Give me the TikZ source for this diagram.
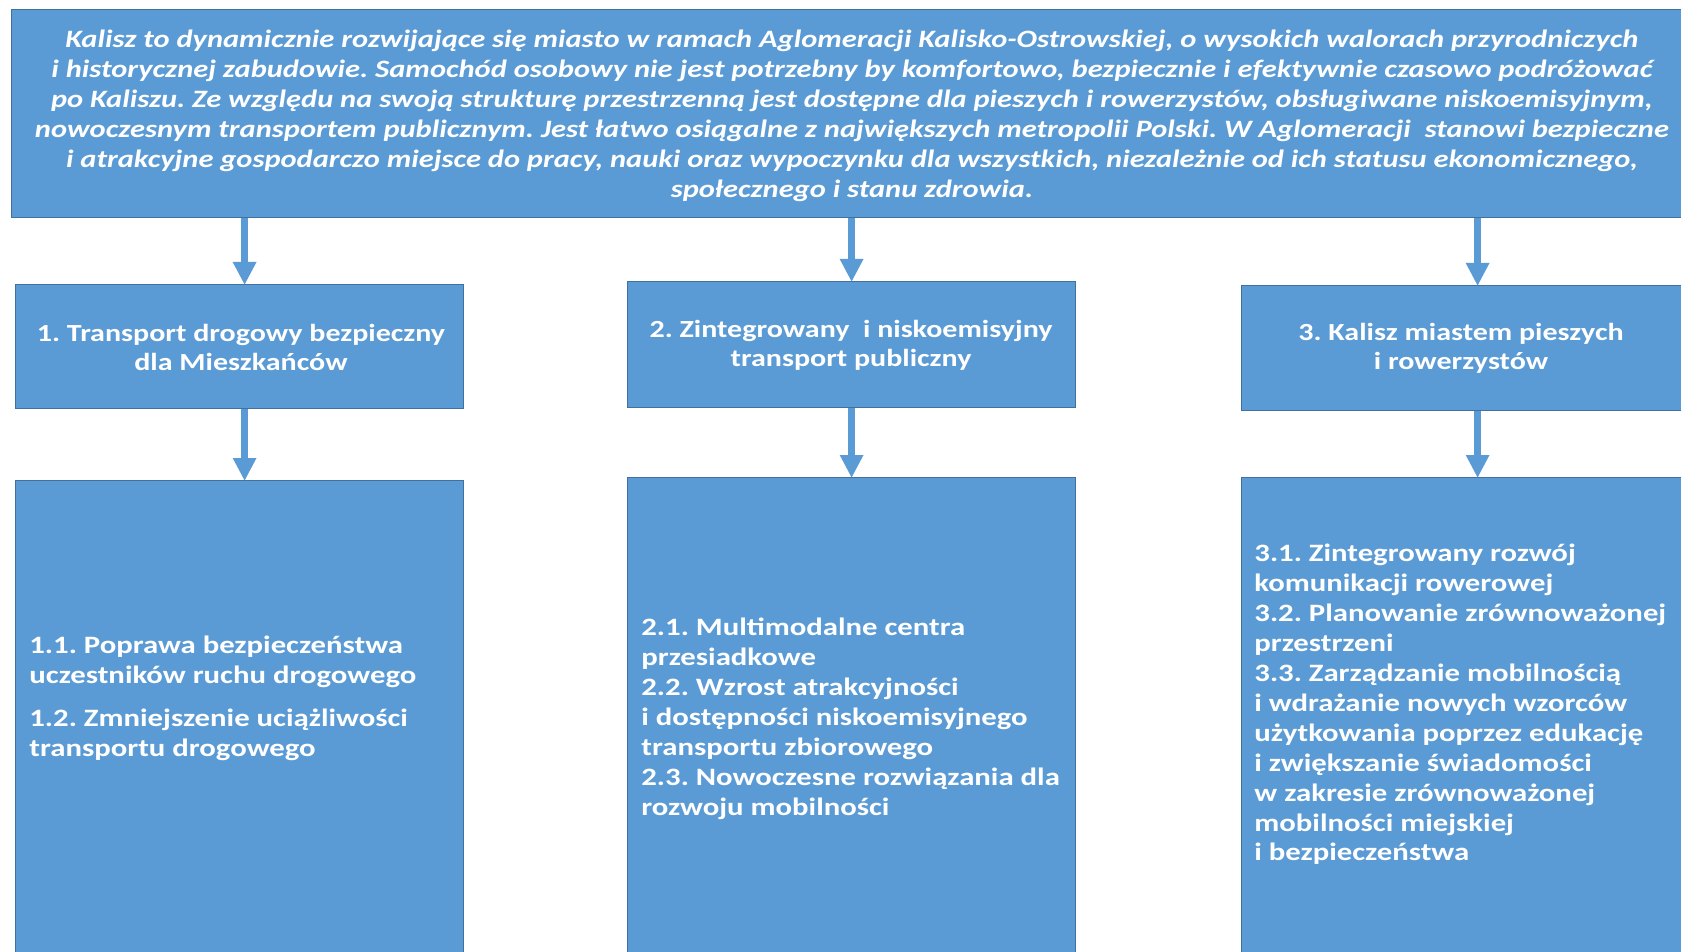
\documentclass[tikz,border=0pt]{standalone}
\usepackage{fontspec}
\setmainfont{Carlito}
\newfontfamily\topfont{Carlito}[FakeStretch=1.22]
\newfontfamily\headfont{Carlito}[FakeStretch=1.22]
\newfontfamily\itemfont{Carlito}[FakeStretch=1.23]
\usetikzlibrary{arrows.meta}
\definecolor{boxblue}{HTML}{5B9BD5}
\definecolor{boxedge}{HTML}{41719C}
\tikzset{
  box/.style={draw=boxedge, line width=0.6pt, fill=boxblue, inner sep=0pt, anchor=north west},
  toptext/.style={text=white, align=center, inner sep=0pt, font=\frenchspacing\topfont\bfseries\itshape\fontsize{12.5}{14.95}\selectfont},
  headtext/.style={text=white, align=center, inner sep=0pt, font=\frenchspacing\headfont\bfseries\fontsize{12.3}{14.5}\selectfont},
  itemtext/.style={text=white, align=left, inner sep=0pt, anchor=north west, font=\frenchspacing\itemfont\bfseries\fontsize{12.5}{14.95}\selectfont},
  arr/.style={draw=boxblue, line width=3.5pt, -{Triangle[width=11pt,length=11.5pt]}, shorten >=-0.5pt}
}
\begin{document}
\begin{tikzpicture}[x=0.5pt,y=-0.5pt]
\clip (0,0) rectangle (1681,952);
\fill[white] (0,0) rectangle (1681,952);
% top box
\node[box, minimum width=1690*0.5pt, minimum height=208*0.5pt] (top) at (11,9) {};
\node[toptext] (toptxt) at (852,116) {Kalisz to dynamicznie rozwijające się miasto w ramach Aglomeracji Kalisko-Ostrowskiej, o wysokich walorach przyrodniczych\\
i historycznej zabudowie. Samochód osobowy nie jest potrzebny by komfortowo, bezpiecznie i efektywnie czasowo podróżować\\
po Kaliszu. Ze względu na swoją strukturę przestrzenną jest dostępne dla pieszych i rowerzystów, obsługiwane niskoemisyjnym,\\
nowoczesnym transportem publicznym. Jest łatwo osiągalne z największych metropolii Polski. W Aglomeracji\ \ stanowi bezpieczne\\
i atrakcyjne gospodarczo miejsce do pracy, nauki oraz wypoczynku dla wszystkich, niezależnie od ich statusu ekonomicznego,\\
społecznego i stanu zdrowia.};
% level 2
\node[box, minimum width=448*0.5pt, minimum height=124*0.5pt] (a1) at (15,284) {};
\node[box, minimum width=448*0.5pt, minimum height=126*0.5pt] (a2) at (627,281) {};
\node[box, minimum width=448*0.5pt, minimum height=125*0.5pt] (a3) at (1241,285) {};
\node[headtext] (a1t) at (241,347) {1. Transport drogowy bezpieczny\\dla Mieszkańców};
\node[headtext] (a2t) at (851,345) {2. Zintegrowany\ \ i niskoemisyjny\\transport publiczny};
\node[headtext] (a3t) at (1461,348) {3. Kalisz miastem pieszych\\i rowerzystów};
% level 3
\node[box, minimum width=448*0.5pt, minimum height=490*0.5pt] (b1) at (15,480) {};
\node[box, minimum width=448*0.5pt, minimum height=490*0.5pt] (b2) at (627,477) {};
\node[box, minimum width=448*0.5pt, minimum height=490*0.5pt] (b3) at (1241,477) {};
\node[itemtext] (b1t) at (29,636) {1.1. Poprawa bezpieczeństwa\\uczestników ruchu drogowego\\[6.5pt]1.2. Zmniejszenie uciążliwości\\transportu drogowego};
\node[itemtext] (b2t) at (641,618) {2.1. Multimodalne centra\\przesiadkowe\\2.2. Wzrost atrakcyjności\\i dostępności niskoemisyjnego\\transportu zbiorowego\\2.3. Nowoczesne rozwiązania dla\\rozwoju mobilności};
\node[itemtext] (b3t) at (1254,544) {3.1. Zintegrowany rozwój\\komunikacji rowerowej\\3.2. Planowanie zrównoważonej\\przestrzeni\\3.3. Zarządzanie mobilnością\\i wdrażanie nowych wzorców\\użytkowania poprzez edukację\\i zwiększanie świadomości\\w zakresie zrównoważonej\\mobilności miejskiej\\i bezpieczeństwa};
% arrows
\draw[arr] ([xshift=2.5pt]a1.north |- top.south) -- ([xshift=2.5pt]a1.north);
\draw[arr] (a2.north |- top.south) -- (a2.north);
\draw[arr] ([xshift=6pt]a3.north |- top.south) -- ([xshift=6pt]a3.north);
\draw[arr] ([xshift=2.5pt]a1.south) -- ([xshift=2.5pt]b1.north);
\draw[arr] (a2.south) -- (b2.north);
\draw[arr] ([xshift=6pt]a3.south) -- ([xshift=6pt]b3.north);
\end{tikzpicture}
\end{document}
